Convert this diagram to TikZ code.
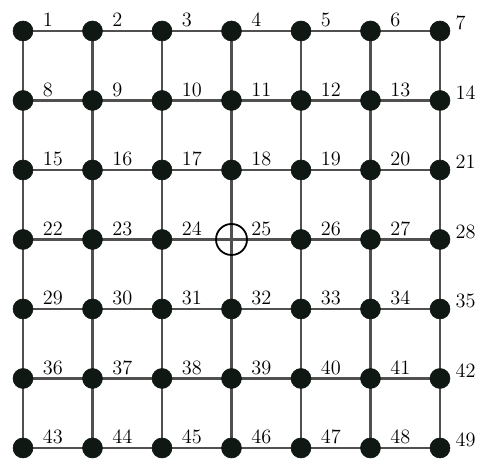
\documentclass[tikz,border=0pt]{standalone}
\usepackage{amsmath}
\usetikzlibrary{positioning,calc}
\definecolor{dotcol}{RGB}{16,24,20}
\definecolor{gridcol}{RGB}{80,80,80}
\tikzset{bvert/.style={draw=dotcol,circle,fill=dotcol,minimum size=0.43cm,inner sep=0pt}  }
\tikzset{overt/.style={draw=black,circle,fill=none,line width=1.1pt,minimum size=0.67cm,inner sep=0pt}  }
\tikzset{gedge/.style={draw=gridcol,line width=1.5pt}  }
\tikzset{numlbl/.style={anchor=base west,inner sep=0pt,font=\fontsize{12.5}{15}\selectfont}  }

\begin{document}
\begin{tikzpicture}[x=1.5cm,y=1.5cm]
	\useasboundingbox (-0.331,-0.187) rectangle (6.547,6.446);
	% grid points, numbered row by row from the top left
	\foreach \r in {0,...,6}{
		\foreach \c in {0,...,6}{
			\pgfmathtruncatemacro{\k}{7*\r+\c+1}
			\coordinate (p\k) at (\c,6-\r);
		}
	}
	% horizontal and vertical lines
	\foreach \r in {0,...,6}{
		\foreach \c in {1,...,6}{
			\pgfmathtruncatemacro{\a}{7*\r+\c}
			\pgfmathtruncatemacro{\b}{7*\r+\c+1}
			\draw[gedge] (p\a) -- (p\b);
		}
	}
	\foreach \r in {0,...,5}{
		\foreach \c in {1,...,7}{
			\pgfmathtruncatemacro{\a}{7*\r+\c}
			\pgfmathtruncatemacro{\b}{7*\r+\c+7}
			\draw[gedge] (p\a) -- (p\b);
		}
	}
	% dots and numbers (right column sits a bit closer)
	\foreach \k in {1,...,49}{
		\ifnum\k=25
			\node[overt] (n\k) at (p\k) {};
		\else
			\node[bvert] (n\k) at (p\k) {};
		\fi
		\pgfmathtruncatemacro{\m}{mod(\k,7)}
		\ifnum\m=0
			\node[numlbl] (l\k) at ($(p\k)+(0.22,0.02)$) {\k};
		\else
			\node[numlbl] (l\k) at ($(p\k)+(0.28,0.06)$) {\k};
		\fi
	}
\end{tikzpicture}
\end{document}
